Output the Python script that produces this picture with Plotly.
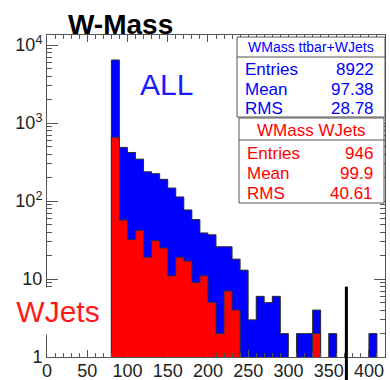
import math
import plotly.graph_objects as go

# ---------------- data ----------------
bin_low = [80, 90, 100, 110, 120, 130, 140, 150, 160, 170, 180, 190, 200, 210, 220, 230, 240,
           250, 260, 270, 280, 290, 300, 310, 320, 330, 340, 350, 360, 370, 380, 390, 400, 410]
bin_width = 10
all_counts = [6450, 488, 420, 345, 238, 225, 190, 147, 113, 77, 58, 39, 37, 26, 26, 18, 13,
              3, 6, 5, 6, 2, 0, 2, 2, 4, 0, 2, 0, 0, 0, 0, 2, 0]
wjets_counts = [656, 57, 32, 42, 19, 31, 25, 11, 19, 17, 9, 11, 5, 2, 7, 4, 0,
                0, 0, 0, 0, 0, 0, 0, 0, 2, 0, 0, 0, 0, 0, 0, 0, 0]
x_ticks = [0, 50, 100, 150, 200, 250, 300, 350, 400]
y_ticks = [1, 10, 100, 1000, 10000]
y_ticktext = ["1", "10", "10<sup>2</sup>", "10<sup>3</sup>", "10<sup>4</sup>"]
stats_all = [("Entries", "8922"), ("Mean", "97.38"), ("RMS", "28.78")]
stats_wjets = [("Entries", "946"), ("Mean", "99.9"), ("RMS", "40.61")]
cut_x = 372
cut_top = 8

X_RANGE = [0, 420]
Y_RANGE = [0, 4.13]

# ---------------- layout helpers ----------------
W, H = 390, 380
ML, MR, MT, MB = 47, 5, 35, 23
PW, PH = W - ML - MR, H - MT - MB


def px(p):
    return (p - ML) / PW


def py(p):
    return (H - MB - p) / PH


FONT = "Liberation Sans, Arial, sans-serif"
BLUE = "#0000ff"
RED = "#ff0000"
EDGE = "#333333"

centers = [b + bin_width / 2 for b in bin_low]


def outline(counts):
    floor = 0.05
    xs = [bin_low[0]]
    ys = [floor]
    for b, c in zip(bin_low, counts):
        xs.append(b)
        ys.append(c if c > 0 else floor)
    xs.append(bin_low[-1] + bin_width)
    ys.append(floor)
    return xs, ys


fig = go.Figure()

fig.add_trace(go.Bar(x=centers, y=[c if c > 0 else None for c in all_counts], width=bin_width,
                     marker=dict(color=BLUE, line=dict(width=0)), showlegend=False))
ox, oy = outline(all_counts)
fig.add_trace(go.Scatter(x=ox, y=oy, mode="lines", line=dict(color=EDGE, width=1, shape="hv"),
                         showlegend=False))
fig.add_trace(go.Bar(x=centers, y=[c if c > 0 else None for c in wjets_counts], width=bin_width,
                     marker=dict(color=RED, line=dict(width=0)), showlegend=False))
ox, oy = outline(wjets_counts)
fig.add_trace(go.Scatter(x=ox, y=oy, mode="lines", line=dict(color=EDGE, width=1, shape="hv"),
                         showlegend=False))

annotations = []
shapes = []

# title
annotations.append(dict(text="<b>W-Mass</b>", x=px(120), y=py(24), xref="paper", yref="paper",
                        showarrow=False, xanchor="center", yanchor="middle",
                        font=dict(family=FONT, size=28, color="black")))
# ALL label
annotations.append(dict(text="ALL", x=px(166), y=py(84), xref="paper", yref="paper",
                        showarrow=False, xanchor="center", yanchor="middle",
                        font=dict(family=FONT, size=30, color="#1a1aff")))
# WJets label (white box covers axis line)
annotations.append(dict(text="WJets", x=px(58), y=py(311), xref="paper", yref="paper",
                        showarrow=False, xanchor="center", yanchor="middle",
                        width=98, height=46, bgcolor="white", borderpad=0,
                        font=dict(family=FONT, size=30, color="#ff1a1a")))


def stat_box(x0, y0, x1, y1, sep, title, title_size, title_y, rows, row_y, color):
    shapes.append(dict(type="rect", xref="paper", yref="paper", x0=px(x0), x1=px(x1),
                       y0=py(y1), y1=py(y0), fillcolor="white",
                       line=dict(color="#555555", width=1), layer="above"))
    shapes.append(dict(type="line", xref="paper", yref="paper", x0=px(x0), x1=px(x1),
                       y0=py(sep), y1=py(sep), line=dict(color="#555555", width=1), layer="above"))
    annotations.append(dict(text=title, x=px((x0 + x1) / 2), y=py(title_y), xref="paper",
                            yref="paper", showarrow=False, xanchor="center", yanchor="middle",
                            font=dict(family=FONT, size=title_size, color=color)))
    for (lab, val), yy in zip(rows, row_y):
        annotations.append(dict(text=lab, x=px(x0 + 6), y=py(yy), xref="paper", yref="paper",
                                showarrow=False, xanchor="left", yanchor="middle",
                                font=dict(family=FONT, size=17, color=color)))
        annotations.append(dict(text=val, x=px(x1 - 9), y=py(yy), xref="paper", yref="paper",
                                showarrow=False, xanchor="right", yanchor="middle",
                                font=dict(family=FONT, size=17, color=color)))


stat_box(237, 37, 385, 117, 57, "WMass ttbar+WJets", 14, 47, stats_all, [69, 89, 108], BLUE)
stat_box(239, 118, 384, 203, 140, "WMass WJets", 17, 130, stats_wjets, [153, 173, 193], RED)

# cut line
shapes.append(dict(type="line", xref="paper", yref="paper",
                   x0=(cut_x - X_RANGE[0]) / (X_RANGE[1] - X_RANGE[0]),
                   x1=(cut_x - X_RANGE[0]) / (X_RANGE[1] - X_RANGE[0]),
                   y0=py(380), y1=(math.log10(cut_top) - Y_RANGE[0]) / (Y_RANGE[1] - Y_RANGE[0]),
                   line=dict(color="black", width=3), layer="above"))

y_minor = [m * 10 ** d for d in range(0, 5) for m in range(2, 10)]

fig.update_layout(
    width=W, height=H,
    margin=dict(l=ML, r=MR, t=MT, b=MB, pad=0),
    paper_bgcolor="white", plot_bgcolor="white",
    barmode="overlay", bargap=0,
    showlegend=False,
    font=dict(family=FONT, size=18, color="#222222"),
    annotations=annotations,
    shapes=shapes,
    xaxis=dict(range=X_RANGE, tickvals=x_ticks, ticks="inside", ticklen=7, tickwidth=1,
               tickcolor="#555555", showline=True, linecolor="#555555", linewidth=1,
               mirror="ticks", showgrid=False, zeroline=False, automargin=False,
               ticklabelstandoff=-3,
               tickfont=dict(family=FONT, size=18, color="#222222"),
               minor=dict(dtick=10, ticks="inside", ticklen=4, tickcolor="#555555", showgrid=False)),
    yaxis=dict(type="log", range=Y_RANGE, tickvals=y_ticks, ticktext=y_ticktext,
               ticks="inside", ticklen=11, tickwidth=1, tickcolor="#555555",
               showline=True, linecolor="#555555", linewidth=1, mirror="ticks",
               showgrid=False, zeroline=False, automargin=False,
               tickfont=dict(family=FONT, size=18, color="#222222"),
               minor=dict(tickvals=y_minor, ticks="inside", ticklen=5, tickcolor="#555555",
                          showgrid=False)),
)

fig.write_html("out.html", config={"displayModeBar": False},
               post_script="document.body.style.margin='0';")
